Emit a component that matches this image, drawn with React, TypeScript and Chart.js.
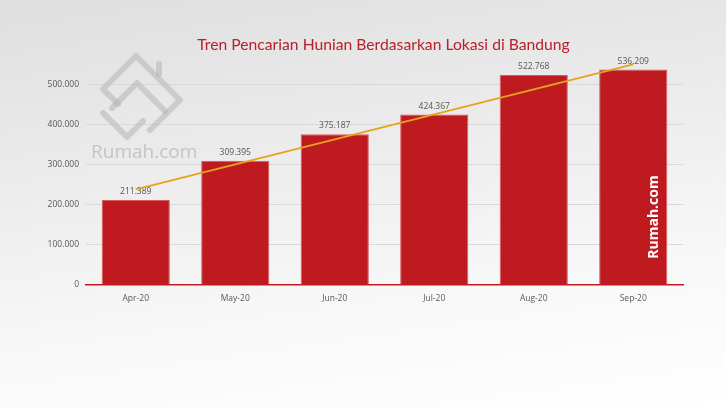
import { useEffect, useRef } from 'react';
import { Chart, registerables } from 'chart.js';

Chart.register(...registerables);

const TITLE = 'Tren Pencarian Hunian Berdasarkan Lokasi di Bandung';
const categories = ['Apr-20', 'May-20', 'Jun-20', 'Jul-20', 'Aug-20', 'Sep-20'];
const searches = [211389, 309395, 375187, 424367, 522768, 536209];
// linear trend line: start (Apr) and end (Sep)
const trendStart = 238000;
const trendEnd = 549000;
const trend: (number | null)[] = [trendStart, null, null, null, null, trendEnd];
const yMax = 550000;
const yTicks = [0, 100000, 200000, 300000, 400000, 500000];

const fmt = (v: number) => Math.round(v).toString().replace(/\B(?=(\d{3})+(?!\d))/g, '.');

const RED = '#c01a21';

const decorPlugin = {
  id: 'decor',
  beforeDatasetsDraw(chart: any) {
    const { ctx, chartArea } = chart;
    ctx.save();
    // title
    ctx.fillStyle = '#b8202a';
    ctx.font = '15.7px Lato';
    ctx.textAlign = 'center';
    ctx.textBaseline = 'middle';
    ctx.fillText(TITLE, (chartArea.left + chartArea.right) / 2 - 1, 45);

    // watermark logo
    ctx.strokeStyle = 'rgba(175,175,175,0.5)';
    ctx.lineWidth = 6;
    ctx.lineJoin = 'round';
    ctx.lineCap = 'round';
    ctx.beginPath();
    ctx.moveTo(118, 104);
    ctx.lineTo(103, 89);
    ctx.lineTo(136, 56);
    ctx.lineTo(180, 100);
    ctx.lineTo(150, 130);
    ctx.stroke();
    ctx.beginPath();
    ctx.moveTo(159, 64);
    ctx.lineTo(159, 74);
    ctx.stroke();
    ctx.beginPath();
    ctx.moveTo(112, 108);
    ctx.lineTo(137, 83);
    ctx.lineTo(165, 111);
    ctx.stroke();
    ctx.beginPath();
    ctx.moveTo(103, 113);
    ctx.lineTo(127, 137);
    ctx.lineTo(143, 121);
    ctx.stroke();
    ctx.fillStyle = 'rgba(180,180,180,0.7)';
    ctx.font = '19px "Open Sans"';
    ctx.textAlign = 'left';
    ctx.fillText('Rumah.com', 91, 153);

    // value labels
    const meta = chart.getDatasetMeta(0);
    ctx.fillStyle = '#555555';
    ctx.font = '8.5px "Open Sans"';
    ctx.textAlign = 'center';
    ctx.textBaseline = 'bottom';
    meta.data.forEach((bar: any, i: number) => {
      ctx.fillText(fmt(searches[i]), bar.x, bar.y - 4);
    });
    ctx.restore();
  },
  afterDatasetsDraw(chart: any) {
    const { ctx, chartArea } = chart;
    const meta = chart.getDatasetMeta(0);
    const bar = meta.data[meta.data.length - 1];
    if (!bar) return;
    ctx.save();
    ctx.translate(bar.x + 21, chartArea.bottom - 68);
    ctx.rotate(-Math.PI / 2);
    ctx.fillStyle = '#ffffff';
    ctx.font = 'bold 14px "Open Sans"';
    ctx.textAlign = 'center';
    ctx.textBaseline = 'middle';
    ctx.fillText('Rumah.com', 0, 0);
    ctx.restore();
  },
};

export default function App() {
  const ref = useRef<HTMLCanvasElement | null>(null);
  useEffect(() => {
    if (!ref.current) return;
    Chart.defaults.font.family = '"Open Sans"';
    const chart = new Chart(ref.current, {
      data: {
        labels: categories,
        datasets: [
          {
            type: 'bar',
            label: 'Pencarian',
            data: searches,
            backgroundColor: RED,
            borderColor: '#d65a5e',
            borderWidth: 1,
            categoryPercentage: 1,
            barPercentage: 0.685,
            order: 1,
          },
          {
            type: 'line',
            label: 'Trend',
            data: trend,
            borderColor: '#e3a51e',
            borderWidth: 2,
            pointRadius: 0,
            spanGaps: true,
            tension: 0,
            clip: false as any,
            order: 0,
          },
        ] as any,
      },
      options: {
        animation: false,
        responsive: false,
        events: [],
        layout: { padding: { left: 0, right: 43, top: 64, bottom: 98 } },
        plugins: { legend: { display: false }, tooltip: { enabled: false }, title: { display: false } },
        scales: {
          x: {
            grid: { display: false, drawTicks: false },
            border: { display: true, color: '#c01a21', width: 1.5 },
            ticks: { color: '#595959', font: { size: 8.5 }, padding: 8 },
            afterFit: (s: any) => { s.height = 25; },
          },
          y: {
            min: 0,
            max: yMax,
            border: { display: false },
            grid: {
              drawTicks: false,
              color: (c: any) => (c.tick && c.tick.value === 0 ? 'rgba(0,0,0,0)' : '#d9d9d9'),
              lineWidth: 1,
            },
            afterBuildTicks: (s: any) => {
              s.ticks = yTicks.map((v) => ({ value: v }));
            },
            ticks: {
              color: '#595959',
              font: { size: 8.5 },
              padding: 7,
              callback: (v: any) => fmt(Number(v)),
            },
            afterFit: (s: any) => { s.width = 86; },
          },
        },
      },
      plugins: [decorPlugin],
    });
    return () => chart.destroy();
  }, []);
  return (
    <div
      style={{
        position: 'fixed',
        left: 0,
        top: 0,
        width: 726,
        height: 408,
        background: 'linear-gradient(172deg, #dfdfdf 0%, #ebebeb 35%, #f8f8f8 70%, #ffffff 100%)',
      }}
    >
      <canvas ref={ref} width={726} height={408} style={{ width: 726, height: 408, display: 'block' }} />
    </div>
  );
}
